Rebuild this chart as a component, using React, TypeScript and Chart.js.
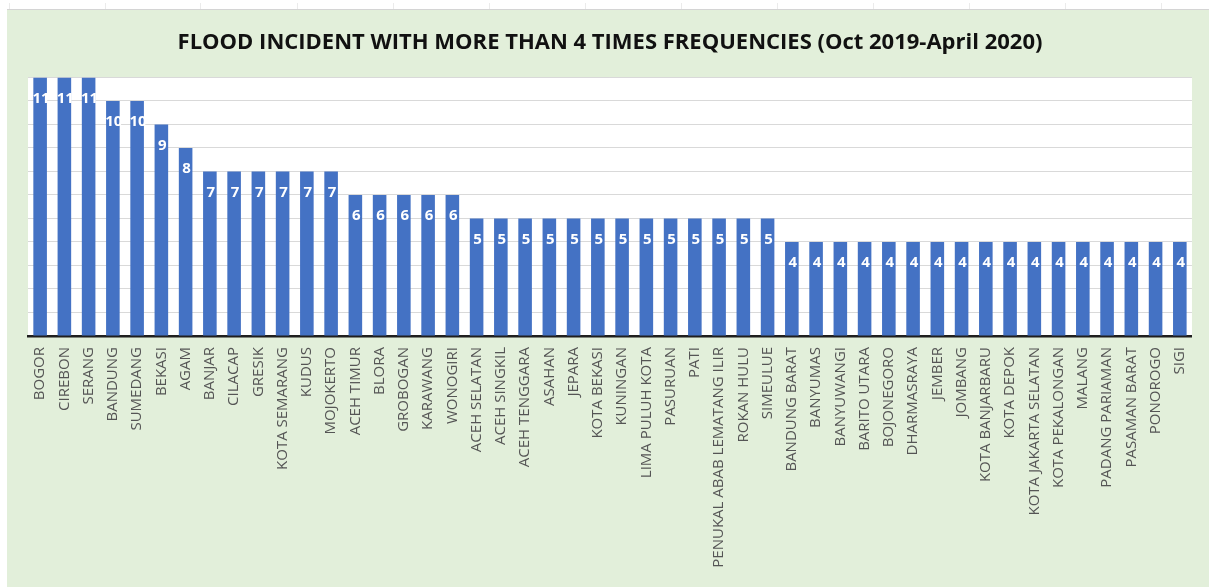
import React, { useEffect, useRef } from "react";
import { Chart, registerables } from "chart.js";

Chart.register(...registerables);

const chartTitle = "FLOOD INCIDENT WITH MORE THAN 4 TIMES FREQUENCIES (Oct 2019-April 2020)";

const regions = [
  "BOGOR", "CIREBON", "SERANG", "BANDUNG", "SUMEDANG", "BEKASI", "AGAM",
  "BANJAR", "CILACAP", "GRESIK", "KOTA SEMARANG", "KUDUS", "MOJOKERTO",
  "ACEH TIMUR", "BLORA", "GROBOGAN", "KARAWANG", "WONOGIRI",
  "ACEH SELATAN", "ACEH SINGKIL", "ACEH TENGGARA", "ASAHAN", "JEPARA",
  "KOTA BEKASI", "KUNINGAN", "LIMA PULUH KOTA", "PASURUAN", "PATI",
  "PENUKAL ABAB LEMATANG ILIR", "ROKAN HULU", "SIMEULUE",
  "BANDUNG BARAT", "BANYUMAS", "BANYUWANGI", "BARITO UTARA", "BOJONEGORO",
  "DHARMASRAYA", "JEMBER", "JOMBANG", "KOTA BANJARBARU", "KOTA DEPOK",
  "KOTA JAKARTA SELATAN", "KOTA PEKALONGAN", "MALANG", "PADANG PARIAMAN",
  "PASAMAN BARAT", "PONOROGO", "SIGI",
];

const incidents = [
  11, 11, 11, 10, 10, 9, 8,
  7, 7, 7, 7, 7, 7,
  6, 6, 6, 6, 6,
  5, 5, 5, 5, 5,
  5, 5, 5, 5, 5,
  5, 5, 5,
  4, 4, 4, 4, 4,
  4, 4, 4, 4, 4,
  4, 4, 4, 4,
  4, 4, 4,
];

const yMax = 11;

// small column markers along the sheet header strip
const headerTicks = [9, 105, 200, 297, 393, 489, 585, 681, 777, 873, 969, 1065, 1161];

const plotBackground = {
  id: "plotBackground",
  beforeDraw(chart: any) {
    const { ctx, chartArea } = chart;
    ctx.save();
    ctx.fillStyle = "#ffffff";
    ctx.fillRect(chartArea.left, chartArea.top, chartArea.right - chartArea.left, chartArea.bottom - chartArea.top);
    ctx.restore();
  },
};

const valueLabels = {
  id: "valueLabels",
  afterDatasetsDraw(chart: any) {
    const { ctx } = chart;
    const meta = chart.getDatasetMeta(0);
    const data = chart.data.datasets[0].data as number[];
    ctx.save();
    ctx.fillStyle = "#ffffff";
    ctx.font = "bold 15px 'Open Sans'";
    ctx.textAlign = "center";
    ctx.textBaseline = "middle";
    meta.data.forEach((bar: any, i: number) => {
      ctx.fillText(String(data[i]), bar.x + 1, bar.y + 21);
    });
    ctx.restore();
  },
};

export default function App() {
  const canvasRef = useRef<HTMLCanvasElement | null>(null);

  useEffect(() => {
    if (!canvasRef.current) return;
    const chart = new Chart(canvasRef.current, {
      type: "bar",
      data: {
        labels: regions,
        datasets: [
          {
            data: incidents,
            backgroundColor: "#4472C4",
            borderWidth: 0,
            barPercentage: 0.56,
            categoryPercentage: 1,
          },
        ],
      },
      options: {
        animation: false,
        responsive: false,
        maintainAspectRatio: false,
        layout: { padding: { left: 21, right: 17, top: 0, bottom: 0 } },
        plugins: {
          legend: { display: false },
          tooltip: { enabled: false },
          title: {
            display: true,
            text: chartTitle,
            color: "#111111",
            font: { family: "'Open Sans'", size: 22, weight: "bold" },
            padding: { top: 20, bottom: 21 },
          },
        },
        scales: {
          x: {
            grid: { display: false, drawTicks: false },
            border: { display: true, color: "#1f1f1f", width: 2.5 },
            ticks: {
              autoSkip: false,
              minRotation: 90,
              maxRotation: 90,
              padding: 11,
              color: "#555555",
              font: { family: "'Open Sans'", size: 15 },
            },
            afterFit: (scale: any) => {
              scale.height = 251;
            },
          },
          y: {
            min: 0,
            max: yMax,
            grid: { color: "#d9d9d9", lineWidth: 1, drawTicks: false },
            border: { display: false },
            ticks: { display: false, stepSize: 1 },
            afterFit: (scale: any) => {
              scale.width = 0;
            },
          },
        },
      },
      plugins: [plotBackground, valueLabels],
    });
    return () => chart.destroy();
  }, []);

  return (
    <div style={{ position: "fixed", left: 0, top: 0, width: 1209, height: 587, background: "#ffffff", overflow: "hidden" }}>
      {headerTicks.map((x) => (
        <div key={x} style={{ position: "absolute", left: x, top: 3, width: 1, height: 7, background: "#ebebeb" }} />
      ))}
      <div
        style={{
          position: "absolute",
          left: 7,
          top: 9,
          width: 1202,
          height: 578,
          background: "#E2EFDA",
          borderTop: "1px solid #d4d4d4",
        }}
      >
        <canvas ref={canvasRef} width={1202} height={577} style={{ display: "block" }} />
      </div>
    </div>
  );
}
